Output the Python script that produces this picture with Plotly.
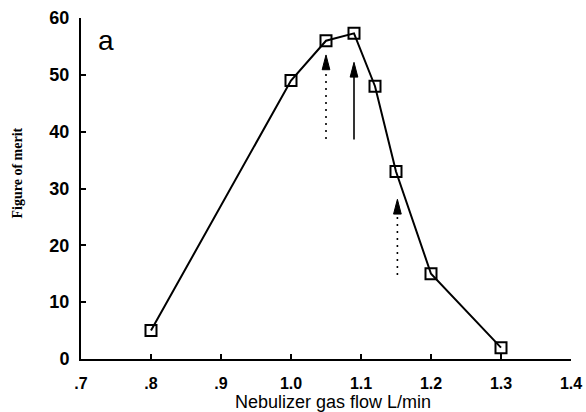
import plotly.graph_objects as go

# Data
flow = [0.8, 1.0, 1.05, 1.09, 1.12, 1.15, 1.2, 1.3]
merit = [5, 49, 56, 57.3, 48, 33, 15, 2]

x_tickvals = [0.7, 0.8, 0.9, 1.0, 1.1, 1.2, 1.3, 1.4]
x_ticktext = [".7", ".8", ".9", "1.0", "1.1", "1.2", "1.3", "1.4"]
y_tickvals = [0, 10, 20, 30, 40, 50, 60]

# Arrows: x, bottom y, tip y, style
arrow_x = [1.05, 1.09, 1.152]
arrow_bottom = [38.7, 38.6, 14.8]
arrow_tip = [53.5, 52.2, 28.1]
arrow_dash = ["2px,5px", "solid", "2px,5px"]

fig = go.Figure()
fig.add_trace(go.Scatter(
    x=flow, y=merit, mode="lines+markers",
    line=dict(color="black", width=2),
    marker=dict(symbol="square-open", size=11, color="black", line=dict(width=2)),
    showlegend=False, hoverinfo="skip",
))

# arrow head size (in data units)
head_half_w = 0.0055
head_len = 2.6
for ax_, yb, yt, dash in zip(arrow_x, arrow_bottom, arrow_tip, arrow_dash):
    fig.add_shape(type="line", x0=ax_, x1=ax_, y0=yb, y1=yt - head_len,
                  line=dict(color="black", width=1.6, dash=dash))
    path = (f"M {ax_ - head_half_w},{yt - head_len} L {ax_ + head_half_w},{yt - head_len} "
            f"L {ax_},{yt} Z")
    fig.add_shape(type="path", path=path, fillcolor="black",
                  line=dict(color="black", width=1))

fig.add_annotation(text="a", x=0.736, y=56, xref="x", yref="y", showarrow=False,
                   font=dict(family="Liberation Sans, Arial", size=28, color="black"),
                   xanchor="center", yanchor="middle")

fig.add_annotation(text="Figure of merit", xref="paper", yref="paper",
                   x=-0.13, y=0.545, showarrow=False, textangle=-90,
                   font=dict(family="Liberation Serif, Times New Roman", size=14,
                             color="black", weight="bold"),
                   xanchor="center", yanchor="middle")

fig.add_annotation(text="Nebulizer gas flow L/min", xref="paper", yref="paper",
                   x=0.515, y=-0.126, showarrow=False,
                   font=dict(family="Liberation Sans, Arial", size=18, color="black"),
                   xanchor="center", yanchor="middle")

fig.update_layout(
    width=586, height=412,
    margin=dict(l=81, r=15, t=18, b=53),
    paper_bgcolor="white", plot_bgcolor="white",
    xaxis=dict(
        range=[0.7, 1.4], tickvals=x_tickvals, ticktext=x_ticktext,
        showgrid=False, zeroline=False, showline=True, linecolor="black", linewidth=2,
        ticks="inside", ticklen=5, tickwidth=2, tickcolor="black", automargin=False,
        tickfont=dict(family="Liberation Sans, Arial", size=16, color="black", weight="bold"),
        ticklabelstandoff=9,
    ),
    yaxis=dict(
        range=[0, 60], tickvals=y_tickvals, automargin=False,
        showgrid=False, zeroline=False, showline=True, linecolor="black", linewidth=2,
        ticks="inside", ticklen=5, tickwidth=2, tickcolor="black",
        tickfont=dict(family="Liberation Sans, Arial", size=18, color="black", weight="bold"),
        ticklabelstandoff=6,
    ),
)

fig.write_html("out.html")
